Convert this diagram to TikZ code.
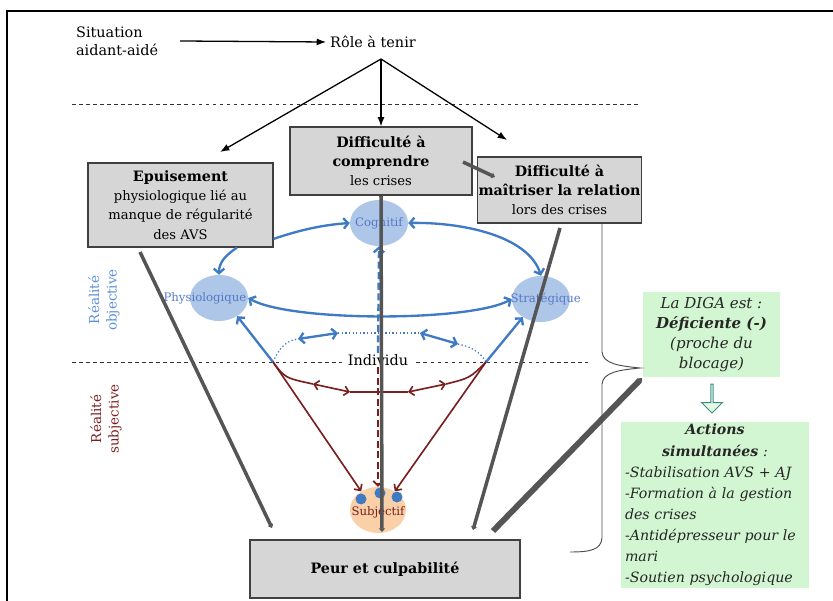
\documentclass[tikz,border=0pt]{standalone}
\usepackage{fontspec}
\setmainfont{DejaVu Serif}
\usetikzlibrary{arrows.meta,shapes.geometric,shapes.arrows}
\definecolor{boxgray}{HTML}{D6D6D6}
\definecolor{linegray}{HTML}{555555}
\definecolor{bluearr}{HTML}{3F7BC4}
\definecolor{bluefill}{HTML}{AEC6E8}
\definecolor{bluetext}{HTML}{5878C8}
\definecolor{bluelabel}{HTML}{5B8FD6}
\definecolor{redarr}{HTML}{7A1E1E}
\definecolor{orangefill}{HTML}{F9D0A8}
\definecolor{greenfill}{HTML}{D2F5D2}
\definecolor{arrowteal}{HTML}{3C8C8C}
\newcommand{\boxhead}[1]{{\fontsize{12.2}{16.5}\selectfont\bfseries #1}}

\begin{document}
\begin{tikzpicture}[x=0.03cm, y=-0.03cm,
  box/.style={draw=black!75, fill=boxgray, line width=1pt, align=center, inner sep=1pt, font=\fontsize{11.2}{16.5}\selectfont},
  greenbox/.style={fill=greenfill, inner sep=3pt, text=black!85},
  pole/.style={ellipse, fill=bluefill, minimum width=1.74cm, minimum height=1.38cm, inner sep=0pt, text=bluetext, font=\fontsize{10}{12}\selectfont},
  plain/.style={font=\fontsize{12.3}{15}\selectfont},
  toparrow/.style={line width=1.1pt, -{Latex[length=8pt,width=6pt]}},
  bluearrow/.style={bluearr, line width=2pt, -{Straight Barb[length=4pt,width=9pt]}},
  bluedouble/.style={bluearr, line width=2pt, {Straight Barb[length=4pt,width=9pt]}-{Straight Barb[length=4pt,width=9pt]}},
  bluedots/.style={bluearr, line width=1.1pt, dotted},
  redline/.style={redarr, line width=1.4pt},
  redarrow/.style={redarr, line width=1.4pt, -{Straight Barb[length=4pt,width=8pt]}},
  reddouble/.style={redarr, line width=1.4pt, {Straight Barb[length=4pt,width=8pt]}-{Straight Barb[length=4pt,width=8pt]}},
  grayline/.style={linegray, line width=3pt, -{Triangle[length=3pt,width=5pt]}},
  sepline/.style={black!80, line width=0.8pt, dashed}]

\useasboundingbox (0,0) rectangle (833,601);
\draw[line width=2pt] (7,601) -- (7,11) -- (833,11);

\node[plain, align=left, anchor=west] (situation) at (72,41) {Situation\\aidant-aidé};
\node[plain] (role) at (373,42) {Rôle à tenir};
\coordinate (roletop) at (381,59);
\coordinate (epuisin) at (220,152);
\coordinate (maitrin) at (507,140);

\draw[sepline] (72,104) -- (640,104);
\draw[sepline] (72,362) -- (588,362);

\node[box, minimum width=5.46cm, minimum height=2.04cm] (compr) at (381,161) {\boxhead{Difficulté à}\\\boxhead{comprendre}\\les crises};
\node[box, minimum width=4.59cm, minimum height=1.98cm] (maitr) at (559.5,190) {\boxhead{Difficulté à}\\\boxhead{maîtriser la relation}\\lors des crises};
\node[box, minimum width=5.55cm, minimum height=2.52cm] (epuis) at (180.5,205) {\boxhead{Epuisement}\\physiologique lié au\\manque de régularité\\des AVS};
\node[box, minimum width=8.1cm, minimum height=1.74cm] (peur) at (385,569) {\boxhead{Peur et culpabilité}};

\draw[toparrow] (situation.east) ++(18,0) -- (role.west);
\draw[toparrow] (roletop) -- (epuisin);
\draw[toparrow] (roletop) -- (compr.north);
\draw[toparrow] (roletop) -- (maitrin);

\node[pole] (cogn) at (379,223) {\makebox[0pt]{Cognitif}};
\node[pole] (phys) at (219,298) {\makebox[0pt]{Physiologique\hspace{24pt}}};
\node[pole] (strat) at (541,299) {\makebox[0pt]{\hspace{8pt}Stratégique}};
\node[ellipse, fill=orangefill, minimum width=1.68cm, minimum height=1.38cm, inner sep=0pt, text=redarr, font=\fontsize{10}{12}\selectfont] (subj) at (378,510) {\makebox[0pt]{\raisebox{-5pt}[0pt][0pt]{Subjectif}}};
\fill[bluearr] (361,499) circle (5.5);
\fill[bluearr] (380,493) circle (5.5);
\fill[bluearr] (397,497) circle (5.5);

\node[plain, fill=white, inner xsep=5pt, inner ysep=1pt] (individu) at (378,360) {Individu};
\coordinate (apexL) at (273,362);
\coordinate (apexR) at (486,362);

\draw[bluearrow] (epuis.-20) .. controls (300,230) and (322,225) .. (cogn.west);
\draw[bluearrow] (epuis.-37) .. controls (226,255) and (219,262) .. (phys.north);
\draw[bluedouble] (cogn.east) .. controls (460,222) and (528,235) .. (strat.north);
\draw[bluedouble] (phys.east) .. controls (290,322) and (470,322) .. (strat.west);
\draw[bluearrow] (apexL) -- (phys.-45);
\draw[bluearrow] (apexR) -- (strat.-135);
\draw[bluearrow, dash pattern=on 6pt off 3pt] (individu.north) -- (cogn.south);

\coordinate (dl1) at (298,339);
\coordinate (dl2) at (338,333);
\coordinate (dr1) at (420,333);
\coordinate (dr2) at (458,344);
\draw[bluedots] (apexL) .. controls (280,346) and (288,340) .. (dl1);
\draw[bluedouble] (dl1) -- (dl2);
\draw[bluedots] (dl2) -- (dr1);
\draw[bluedouble] (dr1) -- (dr2);
\draw[bluedots] (dr2) .. controls (472,347) and (480,352) .. (apexR);

\coordinate (rl1) at (313,384);
\coordinate (rl2) at (350,392);
\coordinate (rr1) at (408,392);
\coordinate (rr2) at (446,384);
\draw[redarrow] (apexL) -- (subj.132);
\draw[redarrow] (apexR) -- (subj.48);
\draw[redarrow, dash pattern=on 6pt off 3pt] (individu.south) -- (subj.north);
\draw[redline] (apexL) .. controls (285,378) .. (rl1);
\draw[reddouble] (rl1) -- (rl2);
\draw[redline] (rl2) -- (rr1);
\draw[reddouble] (rr1) -- (rr2);
\draw[redline] (rr2) .. controls (470,378) .. (apexR);

\coordinate (g1a) at (140,252);
\coordinate (g1b) at (272,528);
\coordinate (g2b) at (382,532);
\coordinate (g3a) at (560,228);
\coordinate (g3b) at (473,530);
\coordinate (g4a) at (493,531);
\coordinate (g5a) at (463,162);
\coordinate (g5b) at (495,177);
\draw[grayline] (g1a) -- (g1b);
\draw[grayline] (compr.south) -- (g2b);
\draw[grayline] (g3a) -- (g3b);
\draw[grayline] (g5a) -- (g5b);

\node[greenbox, minimum width=4.11cm, minimum height=2.55cm, align=center, font=\itshape\fontsize{12.8}{17}\selectfont] (diga) at (711.5,334.5) {La DIGA est :\\\textbf{Déficiente (-)}\\(proche du\\blocage)};
\draw[grayline, line width=5pt, shorten >=1pt] (g4a) -- (diga.south west);
\node[single arrow, shape border rotate=270, draw=arrowteal, fill=greenfill!60, line width=0.8pt, minimum height=0.87cm, minimum width=0.63cm, single arrow head extend=0.12cm, inner sep=0pt] (down) at (712,398) {};
\node[greenbox, text width=5.4cm, minimum height=4.98cm, inner ysep=1pt, align=left, font=\itshape\fontsize{12.1}{18}\selectfont] (actions) at (715,505) {{\centering\textbf{Actions}\\\textbf{simultanées} :\par}-Stabilisation AVS + AJ\\-Formation à la gestion\\des crises\\-Antidépresseur pour le\\mari\\-Soutien psychologique};

\draw[black!70, line width=0.8pt] (602,223) -- (602,352) .. controls (603,364) and (620,366) .. (640,368) .. controls (620,370) and (603,372) .. (602,384) -- (602,538) .. controls (601,550) and (590,552) .. (570,552);

\node[rotate=90, align=center, text=bluelabel, font=\fontsize{11.5}{15}\selectfont] (objective) at (104,300) {Réalité\\objective};
\node[rotate=90, align=center, text=redarr, font=\fontsize{11.5}{15}\selectfont] (subjective) at (106,419) {Réalité\\subjective};

\end{tikzpicture}
\end{document}
